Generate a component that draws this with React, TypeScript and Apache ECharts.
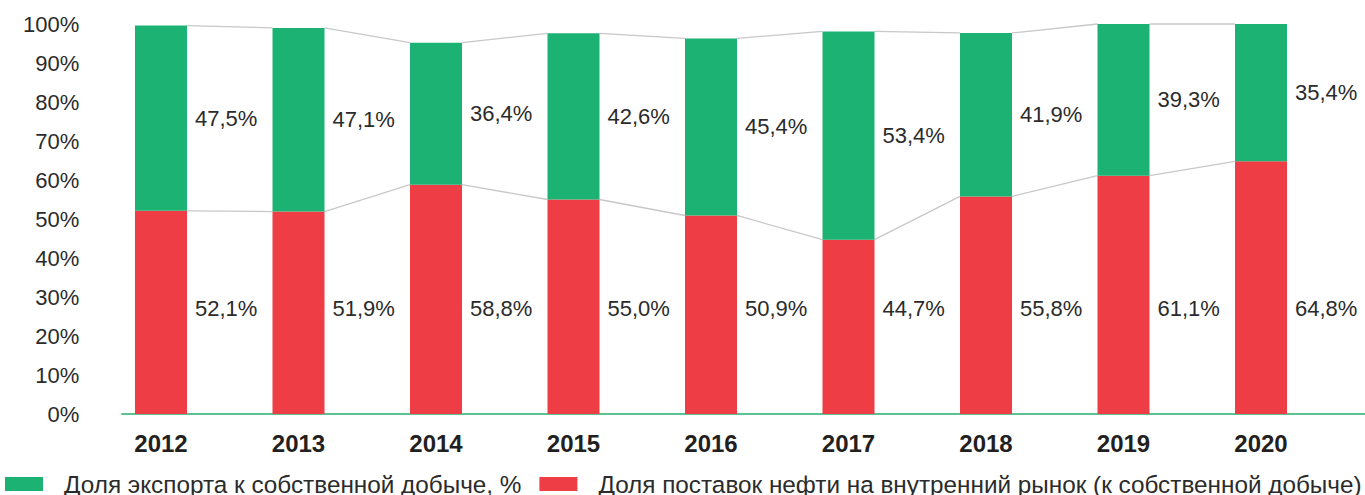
import React, { useEffect, useRef } from "react";
import * as echarts from "echarts";

const years = ["2012", "2013", "2014", "2015", "2016", "2017", "2018", "2019", "2020"];
const domesticShare = [52.1, 51.9, 58.8, 55.0, 50.9, 44.7, 55.8, 61.1, 64.8];
const exportShare = [47.5, 47.1, 36.4, 42.6, 45.4, 53.4, 41.9, 39.3, 35.4];
const yTicks = [0, 10, 20, 30, 40, 50, 60, 70, 80, 90, 100];

const EXPORT_NAME = "Доля экспорта к собственной добыче, %";
const DOMESTIC_NAME = "Доля поставок нефти на внутренний рынок (к собственной добыче)";

const GREEN = "#1BB273";
const RED = "#EF3D45";
const TEXT = "#2b2b2b";
const FONT = '"Liberation Sans", Arial, Helvetica, sans-serif';
const BAR_W = 52;

const fmt = (v: number) => v.toFixed(1).replace(".", ",") + "%";

export default function App() {
  const ref = useRef<HTMLDivElement>(null);

  useEffect(() => {
    if (!ref.current) return;
    const chart = echarts.init(ref.current, undefined, { renderer: "svg" });
    const totals = years.map((_, i) => Math.min(domesticShare[i] + exportShare[i], yTicks[yTicks.length - 1]));

    chart.setOption({
      animation: false,
      textStyle: { fontFamily: FONT },
      grid: [
        { left: 92.25, width: 1237.5, top: 24, bottom: 81 },
        { left: 122, right: 0, top: 24, bottom: 81 },
      ],
      legend: {
        data: [EXPORT_NAME, DOMESTIC_NAME],
        left: 5,
        top: 470,
        width: 1600,
        padding: 0,
        icon: "rect",
        itemWidth: 38,
        itemHeight: 14,
        itemGap: 18,
        textStyle: { fontSize: 24.3, color: TEXT, fontFamily: FONT, padding: [0, 0, 0, 16], lineHeight: 28 },
        selectedMode: false,
      },
      xAxis: [
        {
          type: "category",
          gridIndex: 0,
          data: years,
          axisLine: { show: false },
          axisTick: { show: false },
          axisLabel: { fontSize: 24, fontWeight: "bold", color: "#231f20", margin: 17, fontFamily: FONT },
        },
        {
          type: "category",
          gridIndex: 1,
          data: years,
          axisLine: { show: true, lineStyle: { color: "#5CC293", width: 2 } },
          axisTick: { show: false },
          axisLabel: { show: false },
        },
      ],
      yAxis: [
        {
          type: "value",
          gridIndex: 0,
          min: yTicks[0],
          max: yTicks[yTicks.length - 1],
          interval: 10,
          axisLine: { show: false },
          axisTick: { show: false },
          splitLine: { show: false },
          axisLabel: { formatter: "{value}%", fontSize: 22, color: TEXT, margin: 13, fontFamily: FONT },
        },
        {
          type: "value",
          gridIndex: 1,
          min: 0,
          max: 100,
          show: false,
        },
      ],
      series: [
        {
          name: DOMESTIC_NAME,
          type: "bar",
          stack: "total",
          barWidth: BAR_W,
          data: domesticShare,
          itemStyle: { color: RED },
          label: { show: false },
        },
        {
          name: EXPORT_NAME,
          type: "bar",
          stack: "total",
          barWidth: BAR_W,
          data: exportShare,
          itemStyle: { color: GREEN },
          label: {
            show: true,
            position: "right",
            distance: 8,
            fontSize: 22,
            color: TEXT,
            fontFamily: FONT,
            formatter: (p: any) => fmt(p.value),
          },
        },
        {
          name: "connectors",
          type: "custom",
          silent: true,
          z: 1,
          data: years.map((_, i) => [i, domesticShare[i], totals[i]]),
          renderItem: (params: any, api: any) => {
            const i = api.value(0);
            if (i >= years.length - 1) return { type: "group", children: [] };
            const lineStyle = { stroke: "#c8c8c8", lineWidth: 1.3 };
            const a1 = api.coord([i, domesticShare[i]]);
            const b1 = api.coord([i + 1, domesticShare[i + 1]]);
            const a2 = api.coord([i, totals[i]]);
            const b2 = api.coord([i + 1, totals[i + 1]]);
            const h = BAR_W / 2;
            return {
              type: "group",
              children: [
                { type: "line", shape: { x1: a1[0] + h, y1: a1[1], x2: b1[0] - h, y2: b1[1] }, style: lineStyle },
                { type: "line", shape: { x1: a2[0] + h, y1: a2[1], x2: b2[0] - h, y2: b2[1] }, style: lineStyle },
              ],
            };
          },
        },
        {
          name: "domesticLabels",
          type: "custom",
          silent: true,
          z: 5,
          data: years.map((_, i) => [i, domesticShare[i]]),
          renderItem: (params: any, api: any) => {
            const i = api.value(0);
            const v = api.value(1);
            const base = api.coord([i, 0]);
            return {
              type: "text",
              x: base[0] + BAR_W / 2 + 8,
              y: base[1] - 106,
              style: {
                text: fmt(v),
                fill: TEXT,
                fontSize: 22,
                fontFamily: FONT,
                align: "left",
                verticalAlign: "middle",
              },
            };
          },
        },
      ],
    });

    return () => chart.dispose();
  }, []);

  return (
    <div
      ref={ref}
      style={{ position: "absolute", left: 0, top: 0, width: 1365, height: 495 }}
    />
  );
}
